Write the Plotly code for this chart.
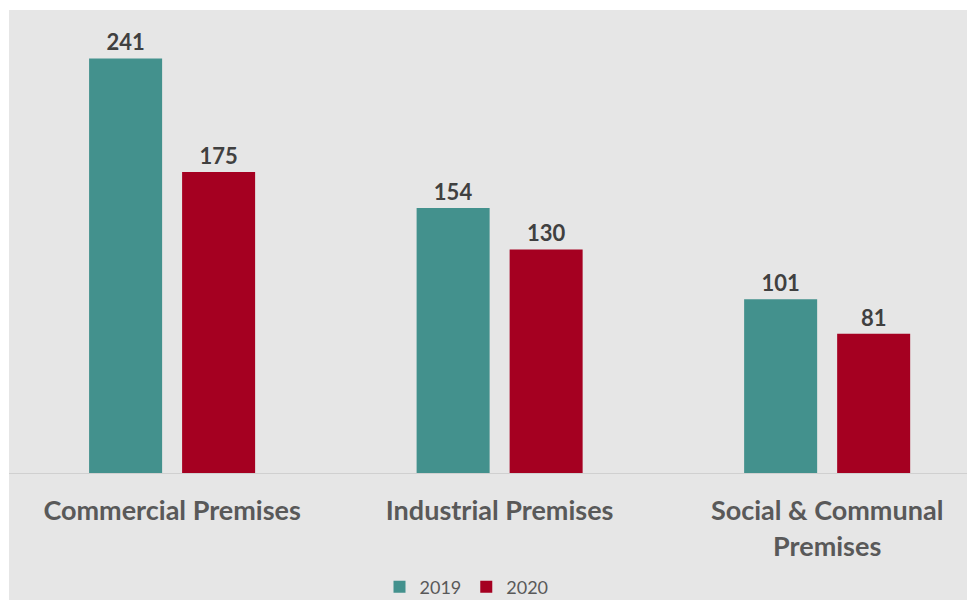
import plotly.graph_objects as go

categories = ["Commercial Premises", "Industrial Premises", "Social & Communal<br>Premises"]
values_2019 = [241, 154, 101]
values_2020 = [175, 130, 81]
series_names = ["2019", "2020"]

TEAL = "#43918d"
RED = "#a50021"
BG = "#e6e6e6"
FONT = "Lato"

W, H = 967, 600
ML, MT, MB = 9, 10, 127
pw = W - ML
ph = H - MT - MB

fig = go.Figure()
for name, vals, col in [(series_names[0], values_2019, TEAL), (series_names[1], values_2020, RED)]:
    fig.add_trace(go.Bar(
        x=categories, y=vals, name=name, marker=dict(color=col, line=dict(width=0)),
        text=[str(v) for v in vals], textposition="outside", cliponaxis=False,
        textfont=dict(family=FONT, size=22, color="#404040", weight="bold"),
    ))

fig.update_layout(
    width=W, height=H,
    margin=dict(l=ML, r=0, t=MT, b=MB, pad=0),
    paper_bgcolor=BG, plot_bgcolor=BG,
    barmode="group", bargap=0.432, bargroupgap=0.215,
    font=dict(family=FONT, color="#595959"),
    xaxis=dict(
        range=[-0.498, 2.427], showgrid=False, showline=True, linecolor="#d0d0d0", linewidth=1,
        ticks="", ticklabelstandoff=14,
        tickfont=dict(family=FONT, size=27, color="#595959", weight="bold"),
    ),
    yaxis=dict(range=[0, ph / 1.72], visible=False, showgrid=False, zeroline=False),
    legend=dict(orientation="h", xref="container", yref="container",
                x=0.5 - 17 / W, xanchor="center", y=13 / H, yanchor="middle",
                font=dict(family=FONT, size=18, color="#595959"), bgcolor="rgba(0,0,0,0)",
                itemwidth=30, traceorder="normal"),
    showlegend=True,
    shapes=[
        dict(type="rect", xref="paper", yref="paper", x0=-ML / pw - 0.01, x1=1.01, y0=1, y1=1 + MT / ph + 0.01,
             fillcolor="white", line=dict(width=0), layer="above"),
        dict(type="rect", xref="paper", yref="paper", x0=-ML / pw - 0.01, x1=0, y0=-0.4, y1=1.05,
             fillcolor="white", line=dict(width=0), layer="above"),
    ],
)

fig.write_html("out.html")
